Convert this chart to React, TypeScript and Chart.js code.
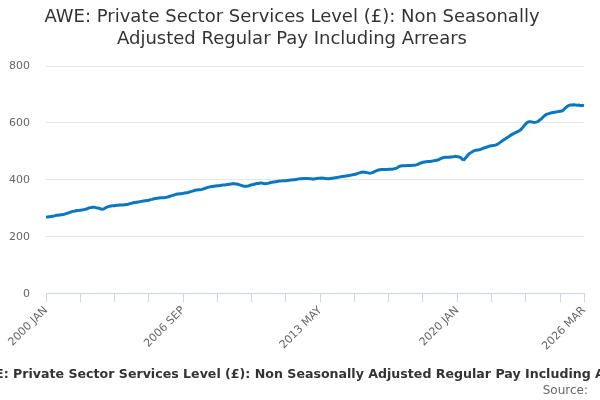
import { useEffect, useRef } from 'react';
import { Chart, registerables } from 'chart.js';

Chart.register(...registerables);

const TITLE = 'AWE: Private Sector Services Level (£): Non Seasonally Adjusted Regular Pay Including Arrears';
const TITLE_LINES = ['AWE: Private Sector Services Level (£): Non Seasonally', 'Adjusted Regular Pay Including Arrears'];
const MONTHS = ['JAN', 'FEB', 'MAR', 'APR', 'MAY', 'JUN', 'JUL', 'AUG', 'SEP', 'OCT', 'NOV', 'DEC'];
const FIRST_YEAR = 2000;

// weekly earnings (£), one row per year, Jan..Dec
const pay2000 = [270, 270, 271, 272, 273, 274, 276, 276, 277, 278, 279, 280];
const pay2001 = [283, 284, 286, 289, 290, 291, 293, 293, 294, 295, 296, 297];
const pay2002 = [299, 302, 303, 304, 304, 303, 302, 301, 298, 297, 299, 303];
const pay2003 = [306, 308, 309, 310, 310, 311, 311, 312, 312, 312, 313, 314];
const pay2004 = [315, 317, 318, 320, 321, 322, 323, 324, 325, 326, 327, 328];
const pay2005 = [329, 331, 332, 334, 335, 336, 337, 338, 338, 338, 339, 340];
const pay2006 = [342, 344, 346, 348, 350, 351, 352, 352, 353, 354, 355, 356];
const pay2007 = [358, 360, 362, 364, 365, 366, 366, 367, 369, 371, 373, 375];
const pay2008 = [376, 377, 378, 379, 380, 380, 381, 382, 382, 383, 384, 385];
const pay2009 = [386, 387, 387, 386, 385, 383, 381, 379, 378, 378, 379, 381];
const pay2010 = [383, 384, 386, 388, 388, 389, 389, 388, 387, 388, 389, 391];
const pay2011 = [392, 393, 394, 395, 396, 396, 397, 397, 397, 398, 399, 400];
const pay2012 = [401, 401, 402, 403, 404, 404, 405, 405, 405, 405, 404, 404];
const pay2013 = [403, 404, 405, 406, 406, 407, 406, 405, 404, 404, 405, 406];
const pay2014 = [407, 408, 409, 410, 411, 412, 413, 414, 415, 416, 417, 418];
const pay2015 = [419, 421, 423, 425, 427, 428, 427, 426, 425, 424, 425, 427];
const pay2016 = [430, 433, 435, 436, 437, 437, 437, 437, 438, 438, 438, 439];
const pay2017 = [440, 443, 447, 449, 450, 450, 450, 451, 451, 451, 452, 452];
const pay2018 = [453, 455, 458, 460, 462, 463, 464, 465, 465, 466, 467, 468];
const pay2019 = [469, 471, 474, 477, 479, 480, 480, 480, 481, 481, 482, 483];
const pay2020 = [482, 481, 479, 472, 471, 478, 486, 492, 496, 500, 503, 504];
const pay2021 = [505, 506, 508, 511, 513, 515, 517, 519, 520, 521, 522, 524];
const pay2022 = [527, 532, 536, 540, 544, 548, 552, 556, 560, 563, 566, 569];
const pay2023 = [572, 576, 582, 590, 597, 602, 604, 604, 603, 602, 603, 605];
const pay2024 = [610, 614, 620, 626, 630, 632, 634, 636, 637, 638, 639, 640];
const pay2025 = [641, 642, 645, 652, 657, 661, 663, 663, 664, 663, 662, 663];
const pay2026 = [661, 662, 661];

const values = [
  ...pay2000, ...pay2001, ...pay2002, ...pay2003, ...pay2004, ...pay2005, ...pay2006,
  ...pay2007, ...pay2008, ...pay2009, ...pay2010, ...pay2011, ...pay2012, ...pay2013,
  ...pay2014, ...pay2015, ...pay2016, ...pay2017, ...pay2018, ...pay2019, ...pay2020,
  ...pay2021, ...pay2022, ...pay2023, ...pay2024, ...pay2025, ...pay2026,
];
const labels = values.map((_, i) => `${FIRST_YEAR + Math.floor(i / 12)} ${MONTHS[i % 12]}`);
const LAST = values.length - 1;

// caption under the chart: full title (overflowing the canvas) and source line
const captionPlugin = {
  id: 'caption',
  afterDraw(chart: Chart) {
    const { ctx } = chart;
    ctx.save();
    ctx.textBaseline = 'middle';
    ctx.font = 'bold 12.6px "DejaVu Sans"';
    ctx.fillStyle = '#333333';
    ctx.textAlign = 'center';
    ctx.fillText(TITLE, 310, 375);
    ctx.font = '12px "DejaVu Sans"';
    ctx.fillStyle = '#666666';
    ctx.textAlign = 'right';
    ctx.fillText('Source:', 588, 391);
    ctx.restore();
  },
};

export default function App() {
  const canvasRef = useRef<HTMLCanvasElement>(null);
  const chartRef = useRef<Chart | null>(null);

  useEffect(() => {
    if (!canvasRef.current) return;
    if (chartRef.current) chartRef.current.destroy();

    Chart.defaults.font.family = '"DejaVu Sans", sans-serif';

    chartRef.current = new Chart(canvasRef.current, {
      type: 'line',
      data: {
        labels,
        datasets: [{
          data: values,
          borderColor: '#0a77c0',
          borderWidth: 3,
          pointRadius: 0,
          tension: 0,
          fill: false,
        }],
      },
      options: {
        responsive: true,
        maintainAspectRatio: false,
        animation: false,
        layout: { padding: { left: 0, right: 16, top: 0, bottom: 45 } },
        plugins: {
          legend: { display: false },
          tooltip: { enabled: false },
          title: {
            display: true,
            text: TITLE_LINES,
            color: '#333333',
            font: { size: 18, weight: 'normal', lineHeight: 1.25 },
            padding: { top: 6, bottom: 15 },
          },
        },
        scales: {
          x: {
            type: 'category',
            offset: false,
            grid: {
              display: true,
              drawOnChartArea: false,
              drawTicks: true,
              tickLength: 8,
              color: (c: any) => (c.index % 20 === 0 || c.index === LAST ? '#ccd6eb' : 'transparent'),
            },
            border: { display: true, color: '#ccd6eb' },
            ticks: {
              autoSkip: false,
              maxRotation: 45,
              minRotation: 45,
              color: '#666666',
              font: { size: 11 },
              padding: 2,
              callback: (_v: any, i: number) => (i % 80 === 0 || i === LAST ? labels[i] : ''),
            },
          },
          y: {
            min: 0,
            max: 800,
            afterFit: (scale: any) => { scale.width = 46; },
            ticks: { stepSize: 200, color: '#666666', font: { size: 11 }, padding: 16 },
            grid: { color: '#e6e6e6', drawTicks: false },
            border: { display: false },
          },
        },
      },
      plugins: [captionPlugin],
    });

    return () => {
      if (chartRef.current) {
        chartRef.current.destroy();
        chartRef.current = null;
      }
    };
  }, []);

  return (
    <div style={{ position: 'absolute', left: 0, top: 0, width: 600, height: 400 }}>
      <canvas ref={canvasRef} />
    </div>
  );
}
